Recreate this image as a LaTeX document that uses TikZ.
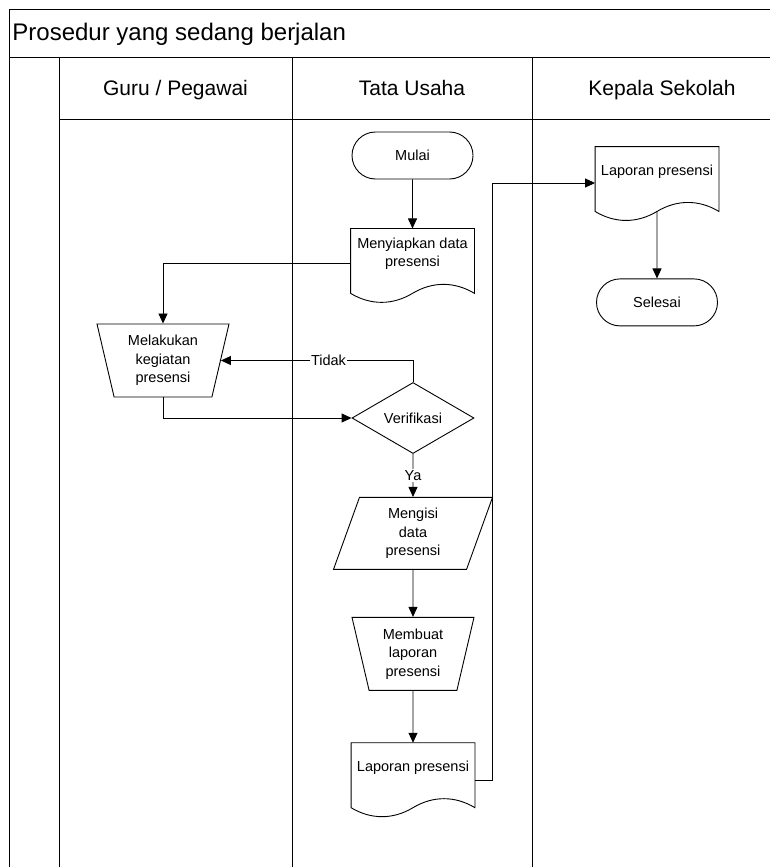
\documentclass[tikz,border=0pt]{standalone}
\usepackage{fontspec}
\setmainfont{Liberation Sans}
\usetikzlibrary{shapes.geometric,shapes.misc,positioning,arrows.meta,calc}

\tikzset{
  teks/.style={font=\fontsize{14.5}{18.5}\selectfont, align=center, inner sep=0pt},
  terminal/.style={teks, rounded rectangle, draw, minimum width=121pt, minimum height=47pt},
  dokumen/.style={teks, rectangle, minimum width=123pt, minimum height=50pt},
  manual/.style={teks, trapezium, draw, shape border rotate=180, trapezium left angle=71.3, trapezium right angle=71.3, trapezium stretches body, minimum height=73pt},
  masukan/.style={teks, trapezium, draw, trapezium left angle=62.8, trapezium right angle=117.2, trapezium stretches body, minimum width=159pt, minimum height=72pt},
  keputusan/.style={teks, diamond, draw, minimum width=122pt, minimum height=71pt},
  kolom/.style={font=\fontsize{21}{25}\selectfont, anchor=base},
  ket/.style={font=\fontsize{14.5}{18.5}\selectfont, fill=white, inner sep=1pt},
  panah/.style={-{Triangle[length=10pt,width=9pt]}}
}

% garis luar dokumen, bawahnya bergelombang
\newcommand{\gambardok}[1]{%
  \draw (#1.north west) -- (#1.north east) -- ($(#1.south east)+(0,14)$)
    .. controls +(-20,-12) and +(20,-12) .. ($(#1.south)+(0,14)$)
    .. controls +(-20,12) and +(20,12) .. ($(#1.south west)+(0,14)$) -- cycle;}

\begin{document}
\begin{tikzpicture}[x=1pt, y=-1pt, line width=0.9pt] % 1 satuan = 1 piksel
  \useasboundingbox (0,0) rectangle (770,867);
  \draw (770,9) -- (9,9) -- (9,867);
  \draw (9,57) -- (770,57);
  \draw (59,57) -- (59,867);
  \draw (59,119) -- (770,119);
  \draw (292,57) -- (292,867);
  \draw (532,57) -- (532,867);
  \node[font=\fontsize{24}{28}\selectfont, anchor=base west, inner sep=0pt] (Judul) at (12,41) {Prosedur yang sedang berjalan};
  \node[kolom] (Guru) at (175.5,95) {Guru / Pegawai};
  \node[kolom] (TataUsaha) at (412,95) {Tata Usaha};
  \node[kolom] (Kepala) at (662,95) {Kepala Sekolah};

  \node[terminal] (Mulai) at (412.5,155.5) {Mulai};
  \node[dokumen, below=49pt of Mulai] (Menyiapkan) {Menyiapkan data\\presensi};
  \node[manual, minimum width=132pt] (Melakukan) at (163,360.5) {Melakukan\\kegiatan\\presensi};
  \node[keputusan] (Verifikasi) at (413,418) {Verifikasi};
  \node[masukan, below=43pt of Verifikasi] (Mengisi) {Mengisi\\data\\presensi};
  \node[manual, minimum width=122pt, below=47pt of Mengisi] (Membuat) {Membuat\\laporan\\presensi};
  \node[dokumen, below=52pt of Membuat] (LaporanTU) {Laporan presensi};
  \node[dokumen] (LaporanKS) at (657,172) {Laporan presensi};
  \node[terminal, below=81pt of LaporanKS] (Selesai) {Selesai};
  \gambardok{Menyiapkan}
  \gambardok{LaporanTU}
  \gambardok{LaporanKS}

  \draw[panah] (Mulai) -- (Menyiapkan);
  \draw[panah] ([yshift=-10pt]Menyiapkan.west) -| (Melakukan.north);
  \draw[panah] (Verifikasi.north) |- node[ket, pos=0.72] {Tidak} (Melakukan.east);
  \draw[panah] (Melakukan.south) |- (Verifikasi.west);
  \draw[panah] (Verifikasi) -- node[ket] {Ya} (Mengisi);
  \draw[panah] (Mengisi) -- (Membuat);
  \draw[panah] (Membuat) -- (LaporanTU);
  \draw[panah] ([yshift=-12pt]LaporanTU.east) -- ++(17,0) |- ([yshift=-11pt]LaporanKS.west);
  \draw[panah, shorten <=14pt] (LaporanKS) -- (Selesai);
\end{tikzpicture}
\end{document}
